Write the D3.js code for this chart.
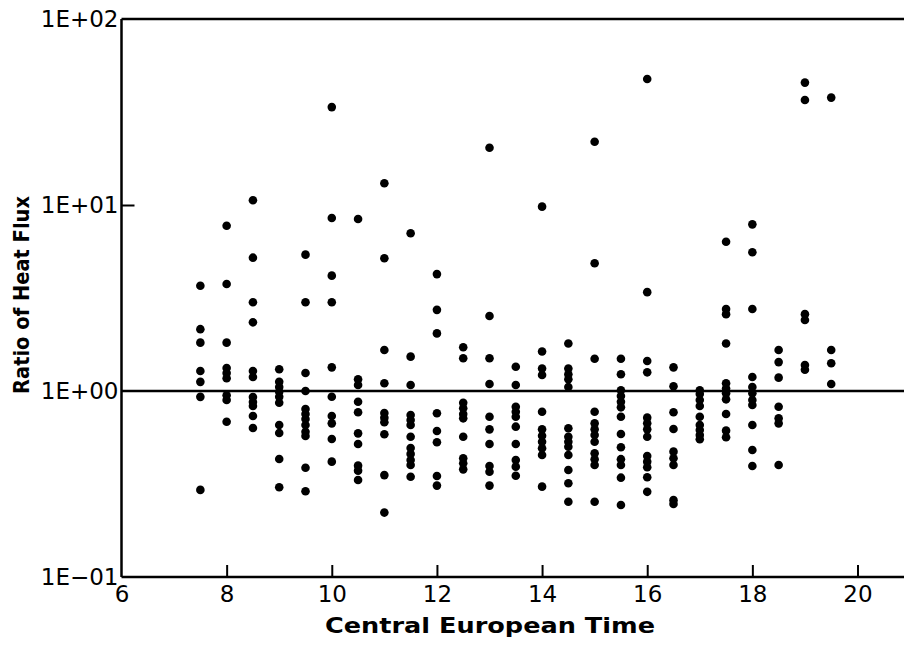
<!DOCTYPE html>
<html>
<head>
<meta charset="utf-8">
<script src="https://cdn.jsdelivr.net/npm/d3@7"></script>
<style>
  body { margin: 0; background: #fff; }
  svg { display: block; }
  .tick text { font-family: "DejaVu Sans", sans-serif; font-size: 23px; fill: #000; }
  .title { font-family: "DejaVu Sans", sans-serif; font-weight: bold; font-size: 22px; fill: #000; }
</style>
</head>
<body>
<div id="chart"></div>
<script>
var width = 904,
	height = 648;

// half-hour observation times (CET)
var times = [7.5, 8, 8.5, 9, 9.5, 10, 10.5, 11, 11.5, 12, 12.5, 13, 13.5,
	14, 14.5, 15, 15.5, 16, 16.5, 17, 17.5, 18, 18.5, 19, 19.5];

// ratio of heat flux, one list per time
var ratios = [
	[3.68, 2.15, 1.82, 1.28, 1.12, 0.93, 0.294],
	[7.74, 3.76, 1.82, 1.33, 1.25, 1.17, 0.948, 0.895, 0.684],
	[10.6, 5.21, 3.0, 2.34, 1.28, 1.19, 0.928, 0.873, 0.83, 0.734, 0.633],
	[1.31, 1.12, 1.05, 0.99, 0.93, 0.865, 0.656, 0.595, 0.431, 0.304],
	[5.41, 3.0, 1.25, 1.0, 0.80, 0.752, 0.707, 0.656, 0.604, 0.573, 0.387, 0.289],
	[33.6, 8.51, 4.17, 3.0, 1.34, 0.932, 0.734, 0.67, 0.552, 0.417],
	[8.41, 1.155, 1.077, 0.876, 0.768, 0.592, 0.519, 0.397, 0.373, 0.332],
	[13.1, 5.17, 1.66, 1.10, 0.762, 0.719, 0.679, 0.585, 0.353, 0.222],
	[7.05, 1.53, 1.077, 0.743, 0.698, 0.656, 0.568, 0.494, 0.459, 0.426, 0.40, 0.346],
	[4.25, 2.73, 2.04, 0.759, 0.61, 0.53, 0.349, 0.31],
	[1.72, 1.50, 0.865, 0.807, 0.752, 0.713, 0.568, 0.435, 0.409, 0.379],
	[20.3, 2.53, 1.50, 1.09, 0.727, 0.622, 0.519, 0.395, 0.368, 0.31],
	[1.35, 1.077, 0.823, 0.774, 0.727, 0.643, 0.519, 0.426, 0.392, 0.35],
	[9.8, 1.63, 1.32, 1.22, 0.774, 0.622, 0.575, 0.534, 0.492, 0.453, 0.306],
	[1.80, 1.32, 1.23, 1.156, 1.05, 0.63, 0.568, 0.534, 0.502, 0.453, 0.376, 0.319, 0.254],
	[21.9, 4.86, 1.49, 0.774, 0.67, 0.622, 0.58, 0.534, 0.463, 0.43, 0.40, 0.254],
	[1.49, 1.23, 1.01, 0.94, 0.876, 0.817, 0.727, 0.587, 0.498, 0.43, 0.40, 0.342, 0.244],
	[47.6, 3.40, 1.45, 1.26, 0.719, 0.67, 0.622, 0.568, 0.447, 0.417, 0.389, 0.344, 0.287],
	[1.34, 1.06, 0.768, 0.625, 0.472, 0.435, 0.40, 0.259, 0.247],
	[1.01, 0.963, 0.895, 0.83, 0.727, 0.656, 0.617, 0.58, 0.55],
	[6.35, 2.76, 2.59, 1.80, 1.10, 1.03, 0.972, 0.902, 0.752, 0.612, 0.564],
	[7.87, 5.57, 2.76, 1.19, 1.05, 0.972, 0.895, 0.841, 0.656, 0.482, 0.395],
	[1.66, 1.43, 1.18, 0.823, 0.713, 0.67, 0.40],
	[45.5, 36.7, 2.59, 2.41, 1.38, 1.30],
	[37.8, 1.66, 1.41, 1.09]
];

var xTicks = [6, 8, 10, 12, 14, 16, 18, 20];
var yTicks = [0.1, 1, 10, 100];
var yTickLabels = ["1E\u221201", "1E+00", "1E+01", "1E+02"];

var points = [];
times.forEach(function(t, i) {
	ratios[i].forEach(function(v) {
		points.push({ t: t, v: v });
	});
});

var x = d3.scaleLinear().domain([6, 20]).range([121.5, 857.5]);
var y = d3.scaleLog().domain([0.1, 100]).range([577, 19]);

var svg = d3.select("#chart").append("svg")
	.attr("width", width)
	.attr("height", height);

// x axis, ticks point up into the plot
var xAxis = svg.append("g")
	.attr("transform", "translate(0," + y(0.1) + ")")
	.call(d3.axisBottom(x)
		.tickValues(xTicks)
		.tickSizeInner(-12)
		.tickSizeOuter(0)
		.tickPadding(9)
		.tickFormat(d3.format("d")));
xAxis.select(".domain").remove();
xAxis.selectAll(".tick line").attr("stroke", "#000").attr("stroke-width", 2)
	.filter(function(d) { return d === 6; }).remove();

// y axis
var yAxis = svg.append("g")
	.attr("transform", "translate(" + x(6) + ",0)")
	.call(d3.axisLeft(y)
		.tickValues(yTicks)
		.tickSizeInner(-13)
		.tickSizeOuter(0)
		.tickPadding(3)
		.tickFormat(function(d, i) { return yTickLabels[i]; }));
yAxis.select(".domain").remove();
yAxis.selectAll(".tick line").attr("stroke", "#000").attr("stroke-width", 2)
	.filter(function(d) { return d !== 10; }).remove();

// frame lines (plot runs off the right edge)
var frame = svg.append("g").attr("stroke", "#000").attr("stroke-width", 2.5);
frame.append("line")
	.attr("x1", x(6)).attr("x2", width)
	.attr("y1", y(100)).attr("y2", y(100));
frame.append("line")
	.attr("x1", x(6)).attr("x2", width)
	.attr("y1", y(0.1)).attr("y2", y(0.1));
frame.append("line")
	.attr("x1", x(6)).attr("x2", x(6))
	.attr("y1", y(100)).attr("y2", y(0.1));
// reference line at ratio 1
frame.append("line")
	.attr("x1", x(6)).attr("x2", width)
	.attr("y1", y(1)).attr("y2", y(1));

svg.append("g").selectAll("circle")
	.data(points)
	.enter().append("circle")
	.attr("cx", function(d) { return x(d.t); })
	.attr("cy", function(d) { return y(d.v); })
	.attr("r", 4.3)
	.attr("fill", "#000");

svg.append("text")
	.attr("class", "title")
	.attr("x", 490)
	.attr("y", 633)
	.attr("text-anchor", "middle")
	.attr("textLength", 330)
	.attr("lengthAdjust", "spacingAndGlyphs")
	.text("Central European Time");

svg.append("text")
	.attr("class", "title")
	.attr("transform", "translate(29,295) rotate(-90)")
	.attr("text-anchor", "middle")
	.attr("textLength", 198)
	.attr("lengthAdjust", "spacingAndGlyphs")
	.text("Ratio of Heat Flux");
</script>
</body>
</html>
